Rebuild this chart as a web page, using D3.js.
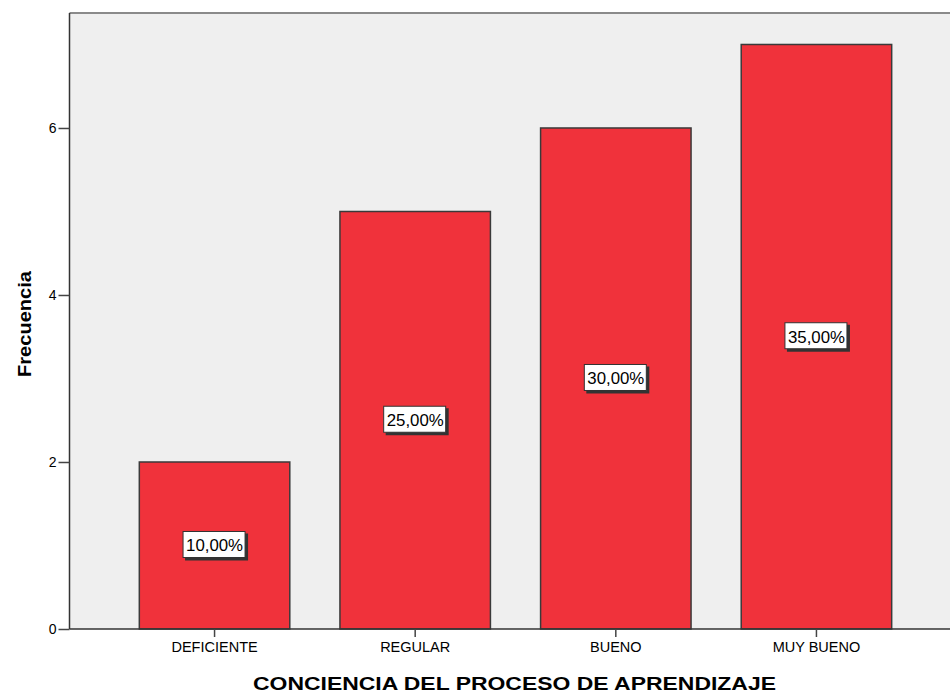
<!DOCTYPE html>
<html>
<head>
<meta charset="utf-8">
<script src="https://cdn.jsdelivr.net/npm/d3@7"></script>
<style>
  html, body { margin: 0; padding: 0; background: #ffffff; }
  svg { display: block; }
  text { font-family: "Liberation Sans", Arial, sans-serif; fill: #000; }
</style>
</head>
<body>
<div id="chart"></div>
<script>
const categories = ["DEFICIENTE", "REGULAR", "BUENO", "MUY BUENO"];
const frequencies = [2, 5, 6, 7];
const percentLabels = ["10,00%", "25,00%", "30,00%", "35,00%"];
const yTicks = [0, 2, 4, 6];
const xTitle = "CONCIENCIA DEL PROCESO DE APRENDIZAJE";
const yTitle = "Frecuencia";

const W = 950, H = 695;
const plot = { left: 69.5, right: 961.5, top: 13, bottom: 629 };

const svg = d3.select("#chart").append("svg")
  .attr("width", W).attr("height", H);

const x = d3.scaleBand()
  .domain(categories)
  .range([plot.left, plot.right])
  .paddingInner(0.25)
  .paddingOuter(0.348);

const y = d3.scaleLinear()
  .domain([0, 7.377])
  .range([plot.bottom, plot.top]);

// plot background
svg.append("rect")
  .attr("x", plot.left).attr("y", plot.top)
  .attr("width", plot.right - plot.left)
  .attr("height", plot.bottom - plot.top)
  .attr("fill", "#efefef");

// top border
svg.append("line")
  .attr("x1", plot.left).attr("x2", W)
  .attr("y1", plot.top).attr("y2", plot.top)
  .attr("stroke", "#8a8a8a").attr("stroke-width", 2);

// bars
svg.append("g").selectAll("rect")
  .data(categories)
  .join("rect")
  .attr("x", d => x(d))
  .attr("y", (d, i) => y(frequencies[i]))
  .attr("width", x.bandwidth())
  .attr("height", (d, i) => y(0) - y(frequencies[i]))
  .attr("fill", "#f0323b")
  .attr("stroke", "#3a3a3a")
  .attr("stroke-width", 1.5);

// y axis
const yAxis = d3.axisLeft(y).tickValues(yTicks).tickFormat(d3.format("d"))
  .tickSize(11).tickPadding(2);
const gy = svg.append("g")
  .attr("transform", `translate(${plot.left},0)`)
  .call(yAxis);
gy.select(".domain").attr("stroke", "#333").attr("stroke-width", 1.5)
  .attr("d", `M0,${plot.top}V${plot.bottom}`);
gy.selectAll(".tick line").attr("stroke", "#444").attr("stroke-width", 1.5);
gy.selectAll(".tick text")
  .style("font-family", "'Liberation Sans', Arial, sans-serif")
  .style("font-size", "14px").attr("fill", "#000");

// x axis
const xAxis = d3.axisBottom(x).tickSize(8).tickPadding(5);
const gx = svg.append("g")
  .attr("transform", `translate(0,${plot.bottom})`)
  .call(xAxis);
gx.select(".domain").attr("stroke", "#333").attr("stroke-width", 1.5)
  .attr("d", `M${plot.left},0H${W}`);
gx.selectAll(".tick line").attr("stroke", "#444").attr("stroke-width", 1.5);
gx.selectAll(".tick text")
  .style("font-family", "'Liberation Sans', Arial, sans-serif")
  .style("font-size", "14.5px").attr("fill", "#111");

// percentage labels
const lab = svg.append("g").selectAll("g")
  .data(categories)
  .join("g")
  .attr("transform", (d, i) => `translate(${x(d) + x.bandwidth() / 2},${y(frequencies[i] / 2)})`);
lab.append("rect")
  .attr("x", -29.5).attr("y", -12).attr("width", 63).attr("height", 27)
  .attr("fill", "#333");
lab.append("rect")
  .attr("x", -31.5).attr("y", -14).attr("width", 62).attr("height", 26)
  .attr("fill", "#fff").attr("stroke", "#333").attr("stroke-width", 1);
lab.append("text")
  .attr("text-anchor", "middle")
  .attr("y", 6)
  .style("font-size", "16px")
  .attr("textLength", 57)
  .attr("lengthAdjust", "spacingAndGlyphs")
  .text((d, i) => percentLabels[i]);

// x title
svg.append("text")
  .attr("x", (253 + 776) / 2).attr("y", 690)
  .attr("text-anchor", "middle")
  .style("font-size", "18.5px").style("font-weight", "bold")
  .attr("textLength", 523).attr("lengthAdjust", "spacingAndGlyphs")
  .text(xTitle);

// y title
svg.append("text")
  .attr("transform", `translate(31,${(plot.top + plot.bottom) / 2 + 3}) rotate(-90)`)
  .attr("text-anchor", "middle")
  .style("font-size", "19px").style("font-weight", "bold")
  .attr("textLength", 106).attr("lengthAdjust", "spacingAndGlyphs")
  .text(yTitle);
</script>
</body>
</html>
